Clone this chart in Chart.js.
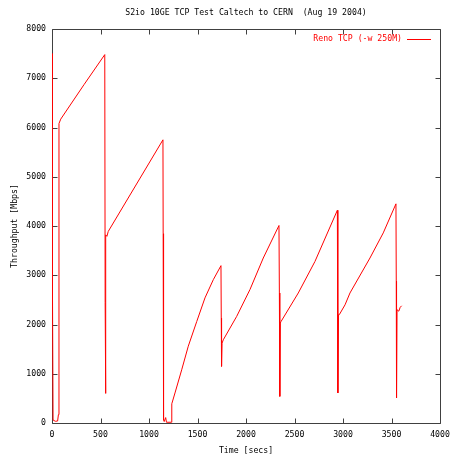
<!DOCTYPE html>
<html>
<head>
<meta charset="utf-8">
<script src="https://cdn.jsdelivr.net/npm/chart.js@4/dist/chart.umd.min.js"></script>
<style>
html, body { margin: 0; padding: 0; background: #fff; }
</style>
</head>
<body>
<canvas id="graphique" width="452" height="455"></canvas>
<script>
// values
var timeSecs = [0, 1, 5, 11, 35, 58, 66, 72, 90, 330, 544, 548, 551, 556, 566, 580, 1144,
  1146, 1150, 1157, 1172, 1180, 1232, 1235, 1268, 1337, 1405, 1492, 1577, 1663, 1742,
  1745, 1747, 1749, 1753, 1766, 1904, 2041, 2178, 2340, 2344, 2347, 2350, 2354, 2361, 2539,
  2711, 2942, 2946, 2948, 2954, 2962, 3021, 3072, 3278, 3415, 3546, 3549, 3551, 3553, 3557,
  3575, 3590, 3605];
var throughputMbps = [7500, 2470, 3480, 60, 35, 40, 170, 6080, 6170, 6870, 7480, 2450, 600, 3820, 3790, 3890, 5750,
  3845, 60, 30, 110, 15, 15, 390, 610, 1080, 1560, 2060, 2540, 2910, 3195,
  2130, 1620, 1150, 1620, 1690, 2165, 2710, 3350, 4010, 2640, 2030, 540, 2030, 2060, 2640,
  3280, 4320, 1120, 610, 2200, 2200, 2400, 2640, 3350, 3860, 4450, 2880, 2270, 510, 2300,
  2270, 2350, 2380];
var xTicks = [0, 500, 1000, 1500, 2000, 2500, 3000, 3500, 4000];
var yTicks = [0, 1000, 2000, 3000, 4000, 5000, 6000, 7000, 8000];
var seriesLabel = 'Reno TCP (-w 250M)';
var chartTitle = 'S2io 10GE TCP Test Caltech to CERN  (Aug 19 2004)';
var xTitle = 'Time [secs]';
var yTitle = 'Throughput [Mbps]';

var FONT = '8.2px "DejaVu Sans Mono", monospace';
var FRAME = '#404040';

var points = [];
for (var i in timeSecs) {
  points.push({x: timeSecs[i], y: throughputMbps[i]});
}

var gnuFrame = {
  id: 'gnuFrame',
  beforeDatasetsDraw: function(chart) {
    var ctx = chart.ctx, a = chart.chartArea;
    var sx = chart.scales.x, sy = chart.scales.y;
    var L = Math.round(a.left) + 0.5, R = Math.round(a.right) + 0.5;
    var T = Math.round(a.top) + 0.5, B = Math.round(a.bottom) + 0.5;
    ctx.save();
    ctx.strokeStyle = FRAME;
    ctx.lineWidth = 1;
    ctx.beginPath();
    ctx.rect(L, T, R - L, B - T);
    xTicks.forEach(function(v) {
      var px = Math.round(sx.getPixelForValue(v)) + 0.5;
      ctx.moveTo(px, B); ctx.lineTo(px, B - 5);
      ctx.moveTo(px, T); ctx.lineTo(px, T + 5);
    });
    yTicks.forEach(function(v) {
      var py = Math.round(sy.getPixelForValue(v)) + 0.5;
      ctx.moveTo(L, py); ctx.lineTo(L + 5, py);
      ctx.moveTo(R, py); ctx.lineTo(R - 5, py);
    });
    ctx.stroke();
    ctx.restore();
  },
  afterDraw: function(chart) {
    var ctx = chart.ctx, a = chart.chartArea;
    var cx = (a.left + a.right) / 2, cy = (a.top + a.bottom) / 2;
    ctx.save();
    ctx.font = FONT;
    ctx.fillStyle = '#000';
    ctx.textAlign = 'center';
    ctx.textBaseline = 'middle';
    ctx.fillText(chartTitle, cx, 13);
    ctx.fillText(xTitle, cx, 451);
    ctx.save();
    ctx.translate(15, cy);
    ctx.rotate(-Math.PI / 2);
    ctx.fillText(yTitle, 0, 0);
    ctx.restore();
    // key, gnuplot style: text then sample line
    ctx.fillStyle = '#ff0000';
    ctx.textAlign = 'right';
    ctx.fillText(seriesLabel, 402, 39);
    ctx.fillRect(407, 39, 24, 1);
    ctx.restore();
  }
};

function plainTick(v) { return String(v); }

var ctx = document.getElementById('graphique');
var lineGraph = new Chart(ctx, {
  type: 'line',
  data: {
    datasets: [{
      label: seriesLabel,
      data: points,
      borderColor: '#ff0000',
      borderWidth: 1,
      pointRadius: 0,
      tension: 0,
      fill: false
    }]
  },
  options: {
    responsive: false,
    animation: false,
    devicePixelRatio: 1,
    layout: { padding: { top: 29, right: 12, left: 0, bottom: 0 } },
    plugins: { legend: { display: false }, title: { display: false }, tooltip: { enabled: false } },
    scales: {
      x: {
        type: 'linear', min: 0, max: 4000,
        afterFit: function(s) { s.height = 32; s.paddingRight = 0; s.paddingLeft = 0; },
        afterBuildTicks: function(s) { s.ticks = xTicks.map(function(v) { return {value: v}; }); },
        grid: { display: false, drawTicks: false },
        border: { display: false },
        ticks: { color: '#000', font: { family: '"DejaVu Sans Mono", monospace', size: 8.2 }, padding: 7, maxRotation: 0, callback: plainTick }
      },
      y: {
        type: 'linear', min: 0, max: 8000,
        afterFit: function(s) { s.width = 52; s.paddingTop = 0; s.paddingBottom = 0; },
        afterBuildTicks: function(s) { s.ticks = yTicks.map(function(v) { return {value: v}; }); },
        grid: { display: false, drawTicks: false },
        border: { display: false },
        ticks: { color: '#000', font: { family: '"DejaVu Sans Mono", monospace', size: 8.2 }, padding: 6, callback: plainTick }
      }
    }
  },
  plugins: [gnuFrame]
});
</script>
</body>
</html>
